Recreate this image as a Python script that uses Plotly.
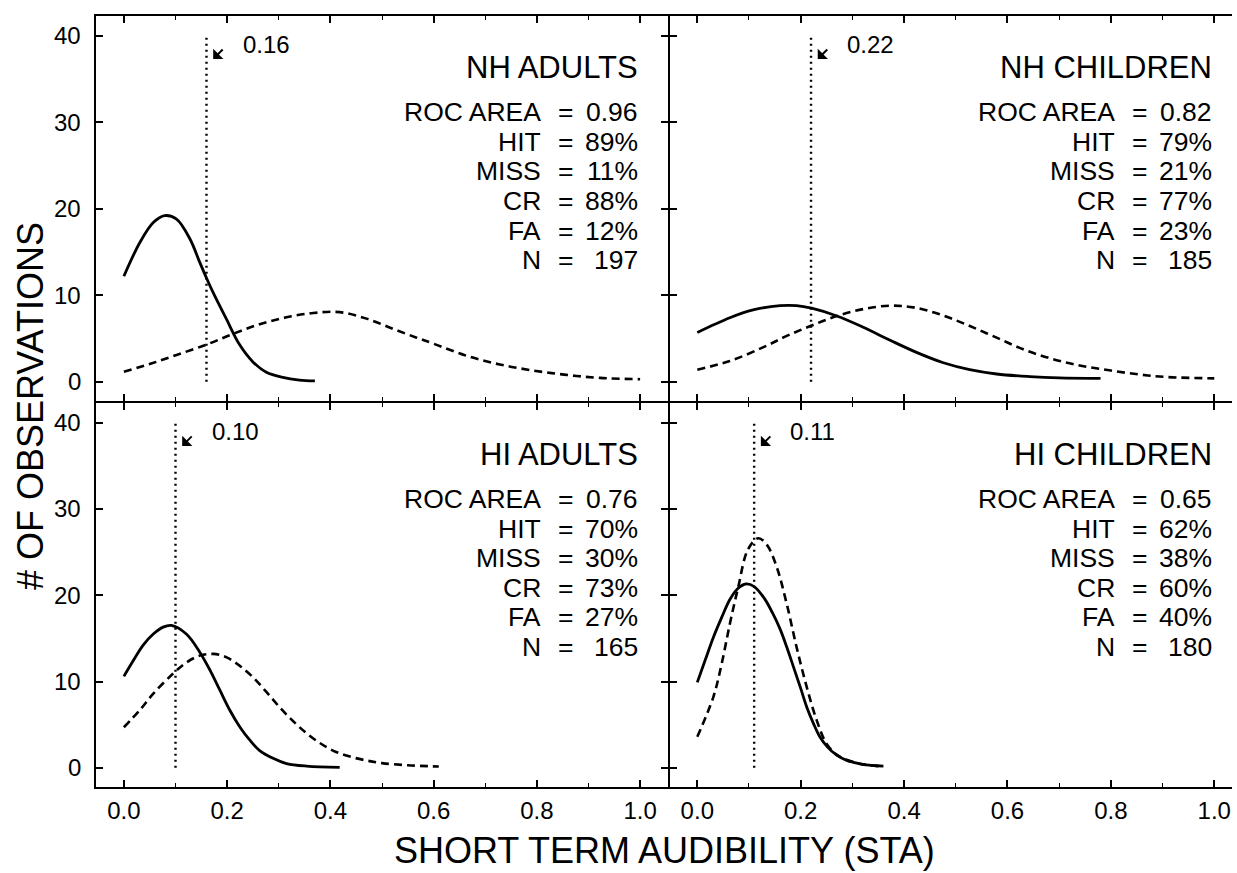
import plotly.graph_objects as go

# ---------------- data ----------------
panel_names = ["NH ADULTS", "NH CHILDREN", "HI ADULTS", "HI CHILDREN"]
roc_area = ["0.96", "0.82", "0.76", "0.65"]
hit = ["89%", "79%", "70%", "62%"]
miss = ["11%", "21%", "30%", "38%"]
cr = ["88%", "77%", "73%", "60%"]
fa = ["12%", "23%", "27%", "40%"]
n_obs = ["197", "185", "165", "180"]
criterion = [0.16, 0.22, 0.10, 0.11]
criterion_labels = ["0.16", "0.22", "0.10", "0.11"]

# NH adults
nh_adults_g1_x = [0, 0.031, 0.057, 0.079, 0.102, 0.128, 0.147, 0.16, 0.173, 0.199, 0.224, 0.25, 0.276, 0.308, 0.34, 0.37]
nh_adults_g1_y = [12.2, 16.1, 18.4, 19.2, 18.8, 16.5, 13.8, 12.0, 10.3, 7.2, 4.3, 2.3, 1.1, 0.5, 0.2, 0.1]
nh_adults_g2_x = [0, 0.05, 0.102, 0.16, 0.212, 0.263, 0.315, 0.367, 0.418, 0.47, 0.522, 0.567, 0.6, 0.664, 0.728, 0.793, 0.857, 0.922, 1.0]
nh_adults_g2_y = [1.15, 2.05, 3.1, 4.3, 5.55, 6.65, 7.45, 7.95, 8.05, 7.3, 6.1, 5.1, 4.4, 3.0, 2.0, 1.3, 0.8, 0.45, 0.3]

# NH children
nh_children_g1_x = [0, 0.063, 0.108, 0.16, 0.192, 0.221, 0.27, 0.321, 0.373, 0.424, 0.476, 0.527, 0.579, 0.643, 0.70, 0.78]
nh_children_g1_y = [5.7, 7.4, 8.3, 8.8, 8.8, 8.5, 7.6, 6.3, 4.8, 3.4, 2.2, 1.4, 0.9, 0.6, 0.45, 0.4]
nh_children_g2_x = [0, 0.063, 0.128, 0.173, 0.221, 0.27, 0.321, 0.373, 0.418, 0.469, 0.521, 0.579, 0.637, 0.695, 0.747, 0.8, 0.854, 0.908, 1.0]
nh_children_g2_y = [1.4, 2.4, 4.0, 5.3, 6.5, 7.6, 8.4, 8.8, 8.6, 7.8, 6.6, 5.1, 3.6, 2.5, 1.8, 1.3, 0.85, 0.55, 0.4]

# HI adults
hi_adults_g1_x = [0, 0.018, 0.037, 0.057, 0.076, 0.092, 0.121, 0.147, 0.167, 0.186, 0.205, 0.225, 0.244, 0.263, 0.289, 0.315, 0.354, 0.418]
hi_adults_g1_y = [10.6, 12.4, 14.2, 15.5, 16.3, 16.5, 15.5, 13.4, 11.3, 9.0, 6.7, 4.7, 3.2, 2.0, 1.1, 0.5, 0.2, 0.05]
hi_adults_g2_x = [0, 0.031, 0.057, 0.095, 0.121, 0.147, 0.173, 0.199, 0.225, 0.25, 0.276, 0.302, 0.328, 0.354, 0.379, 0.405, 0.438, 0.47, 0.5, 0.55, 0.61]
hi_adults_g2_y = [4.7, 6.7, 8.6, 10.9, 12.2, 13.0, 13.2, 12.8, 11.8, 10.5, 8.8, 7.0, 5.4, 4.0, 2.9, 2.0, 1.3, 0.85, 0.55, 0.3, 0.15]

# HI children
hi_children_g1_x = [0, 0.016, 0.031, 0.047, 0.063, 0.079, 0.094, 0.11, 0.13, 0.145, 0.16, 0.173, 0.186, 0.2, 0.212, 0.225, 0.237, 0.252, 0.269, 0.288, 0.32, 0.36]
hi_children_g1_y = [9.9, 12.6, 15.1, 17.4, 19.5, 20.8, 21.3, 21.0, 19.6, 18.0, 16.1, 14.0, 11.7, 9.2, 7.0, 5.1, 3.6, 2.4, 1.5, 0.9, 0.4, 0.2]
hi_children_g2_x = [0, 0.031, 0.047, 0.063, 0.079, 0.098, 0.118, 0.135, 0.154, 0.173, 0.192, 0.212, 0.231, 0.25, 0.27, 0.29, 0.32, 0.35]
hi_children_g2_y = [3.6, 8.2, 12.0, 16.7, 20.9, 25.3, 26.6, 25.8, 23.2, 19.0, 14.0, 9.3, 5.5, 2.8, 1.5, 0.9, 0.4, 0.2]

x_ticks = [0.0, 0.2, 0.4, 0.6, 0.8, 1.0]
x_tick_labels = ["0.0", "0.2", "0.4", "0.6", "0.8", "1.0"]
x_minor_ticks = [0.1, 0.3, 0.5, 0.7, 0.9]
y_ticks = [0, 10, 20, 30, 40]
y_tick_labels = ["0", "10", "20", "30", "40"]

x_title = "SHORT TERM AUDIBILITY (STA)"
y_title = "# OF OBSERVATIONS"

# ---------------- figure ----------------
FONT = "Liberation Sans, Arial, Helvetica, sans-serif"
curves = [
    (nh_adults_g1_x, nh_adults_g1_y, nh_adults_g2_x, nh_adults_g2_y),
    (nh_children_g1_x, nh_children_g1_y, nh_children_g2_x, nh_children_g2_y),
    (hi_adults_g1_x, hi_adults_g1_y, hi_adults_g2_x, hi_adults_g2_y),
    (hi_children_g1_x, hi_children_g1_y, hi_children_g2_x, hi_children_g2_y),
]
axis_ids = ["", "2", "3", "4"]

fig = go.Figure()
annotations = []
for i, (gx1, gy1, gx2, gy2) in enumerate(curves):
    xa = "x" + axis_ids[i]
    ya = "y" + axis_ids[i]
    fig.add_trace(go.Scatter(x=gx1, y=gy1, mode="lines", xaxis=xa, yaxis=ya,
                             line=dict(color="black", width=2.8, shape="spline", smoothing=1.0),
                             showlegend=False, hoverinfo="skip"))
    fig.add_trace(go.Scatter(x=gx2, y=gy2, mode="lines", xaxis=xa, yaxis=ya,
                             line=dict(color="black", width=2.6, dash="8px,5px", shape="spline", smoothing=1.0),
                             showlegend=False, hoverinfo="skip"))
    c = criterion[i]
    fig.add_trace(go.Scatter(x=[c, c], y=[0, 40], mode="lines", xaxis=xa, yaxis=ya,
                             line=dict(color="black", width=2.4, dash="2px,4px"),
                             showlegend=False, hoverinfo="skip"))
    # criterion label + arrow
    annotations.append(dict(xref=xa, yref=ya, x=c + 0.066, y=38.95, text=criterion_labels[i],
                            showarrow=False, xanchor="left", yanchor="middle",
                            font=dict(size=24, color="black", family=FONT)))
    annotations.append(dict(xref=xa, yref=ya, x=c + 0.013, y=37.3, ax=11, ay=-11, text="",
                            showarrow=True, arrowhead=1, arrowsize=1.2, arrowwidth=2,
                            arrowcolor="black", standoff=0, startstandoff=0))
    # group name
    annotations.append(dict(xref=xa, yref=ya, x=0.999, y=36.3, text=panel_names[i],
                            showarrow=False, xanchor="right", yanchor="middle",
                            font=dict(size=31, color="black", family=FONT)))
    labels = ["ROC AREA", "HIT", "MISS", "CR", "FA", "N"]
    values = [roc_area[i], hit[i], miss[i], cr[i], fa[i], n_obs[i]]
    for k, (lab, val) in enumerate(zip(labels, values)):
        yy = 31.15 - 3.42 * k
        annotations.append(dict(xref=xa, yref=ya, x=0.811, y=yy, text=lab, showarrow=False,
                                xanchor="right", yanchor="middle",
                                font=dict(size=26.5, color="black", family=FONT)))
        annotations.append(dict(xref=xa, yref=ya, x=0.855, y=yy, text="=", showarrow=False,
                                xanchor="center", yanchor="middle",
                                font=dict(size=26.5, color="black", family=FONT)))
        annotations.append(dict(xref=xa, yref=ya, x=0.999, y=yy, text=val, showarrow=False,
                                xanchor="right", yanchor="middle",
                                font=dict(size=26.5, color="black", family=FONT)))

# y tick labels of the left column, placed on the axes' own scale
W, H = 1136, 771
for ya in ["y", "y3"]:
    for tv, tl in zip(y_ticks, y_tick_labels):
        annotations.append(dict(xref="paper", yref=ya, x=-13 / W, y=tv, text=tl,
                                showarrow=False, xanchor="right", yanchor="middle",
                                font=dict(size=24, color="black", family=FONT)))

annotations.append(dict(xref="paper", yref="paper", x=0.5, y=-0.082, text=x_title,
                        showarrow=False, xanchor="center", yanchor="middle",
                        font=dict(size=36, color="black", family=FONT)))
annotations.append(dict(xref="paper", yref="paper", x=-0.0581, y=0.494, text=y_title,
                        showarrow=False, xanchor="center", yanchor="middle", textangle=-90,
                        font=dict(size=36, color="black", family=FONT)))

# 2px gaps so the shared border lines of neighbouring panels coincide
lx_end = (573 - 1) / W
rx_start = (573 + 1) / W
top_start = (385 + 1) / H
bot_end = (385 - 1) / H

x_common = dict(showline=True, linecolor="black", linewidth=2, mirror="ticks",
                ticks="inside", ticklen=7, tickwidth=1.6, tickcolor="black",
                tickvals=x_ticks, ticktext=x_tick_labels, showgrid=False, zeroline=False,
                minor=dict(tickvals=x_minor_ticks, ticks="inside", ticklen=4,
                           tickwidth=1.3, tickcolor="black"),
                tickfont=dict(size=24, color="black", family=FONT), ticklabelstandoff=1)
y_common = dict(showline=True, linecolor="black", linewidth=2,
                ticks="inside", ticklen=7, tickwidth=1.6, tickcolor="black",
                tickvals=y_ticks, showgrid=False, zeroline=False,
                range=[-2.22, 42.27], showticklabels=False)

left_range = [-0.054, 1.054]
right_range = [-0.0528, 1.0343]

fig.update_layout(
    width=1237, height=873,
    margin=dict(l=96, r=5, t=16, b=86),
    paper_bgcolor="white", plot_bgcolor="white",
    showlegend=False,
    font=dict(family=FONT, color="black"),
    xaxis=dict(domain=[0, lx_end], range=left_range, anchor="y", showticklabels=False, **x_common),
    yaxis=dict(domain=[top_start, 1], anchor="x", mirror="ticks", **y_common),
    xaxis2=dict(domain=[rx_start, 1], range=right_range, anchor="y2", showticklabels=False, **x_common),
    yaxis2=dict(domain=[top_start, 1], anchor="x2", mirror=False, **y_common),
    xaxis3=dict(domain=[0, lx_end], range=left_range, anchor="y3", **x_common),
    yaxis3=dict(domain=[0, bot_end], anchor="x3", mirror="ticks", **y_common),
    xaxis4=dict(domain=[rx_start, 1], range=right_range, anchor="y4", **x_common),
    yaxis4=dict(domain=[0, bot_end], anchor="x4", mirror=False, **y_common),
    annotations=annotations,
)

fig.write_html("out.html")
